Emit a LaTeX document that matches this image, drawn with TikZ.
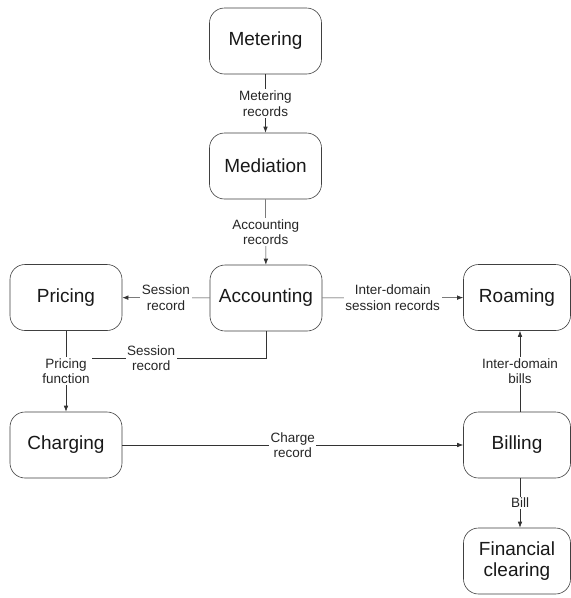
\documentclass[tikz,border=0pt]{standalone}
\usepackage{fontspec}
\setmainfont{Liberation Sans}
\usetikzlibrary{arrows.meta}
\begin{document}
\begin{tikzpicture}[x=1pt,y=-1pt,
  box/.style={draw=black!75, line width=0.6pt, rounded corners=15pt,
    minimum width=112pt, minimum height=66pt, align=center,
    font=\fontsize{19}{22}\selectfont, inner sep=0pt, text=black!90},
  rbox/.style={box, minimum width=107pt},
  conn/.style={draw=black!80, line width=0.6pt, -{Latex[length=6pt,width=4.5pt]}},
  plain/.style={draw=black!80, line width=0.6pt},
  lbl/.style={fill=white, align=center, inner sep=1.5pt,
    font=\fontsize{13.5}{15.5}\selectfont, text=black!85}]
\useasboundingbox[fill=white] (0,0) rectangle (571,598);
\node[box] (met) at (265.5,41) {Metering};
\node[box] (med) at (265.5,166) {Mediation};
\node[box] (acc) at (266,298) {Accounting};
\node[box] (pri) at (66,297.5) {Pricing};
\node[box] (cha) at (66,445) {Charging};
\node[rbox] (roa) at (517,297.5) {Roaming};
\node[rbox] (bil) at (517,445) {Billing};
\node[rbox] (fin) at (517,561) {Financial\\[-1pt]clearing};
\coordinate (j) at (92,358);
\draw[conn] (met) -- node[lbl]{Metering\\records} (med);
\draw[conn] (med) -- node[lbl]{Accounting\\records} (acc);
\draw[conn] (acc) -- node[lbl]{Session\\record} (pri);
\draw[conn] (acc) -- node[lbl]{Inter-domain\\session records} (roa);
\draw[plain] (acc.south) |- node[lbl, pos=0.83]{Session\\record} (j);
\draw[conn] (pri) -- node[lbl]{Pricing\\function} (cha);
\draw[conn] (cha) -- node[lbl]{Charge\\record} (bil);
\draw[conn] ([xshift=3pt]bil.north) -- node[lbl]{Inter-domain\\bills} ([xshift=3pt]roa.south);
\draw[conn] ([xshift=3pt]bil.south) -- node[lbl]{Bill} ([xshift=3pt]fin.north);
\end{tikzpicture}
\end{document}
